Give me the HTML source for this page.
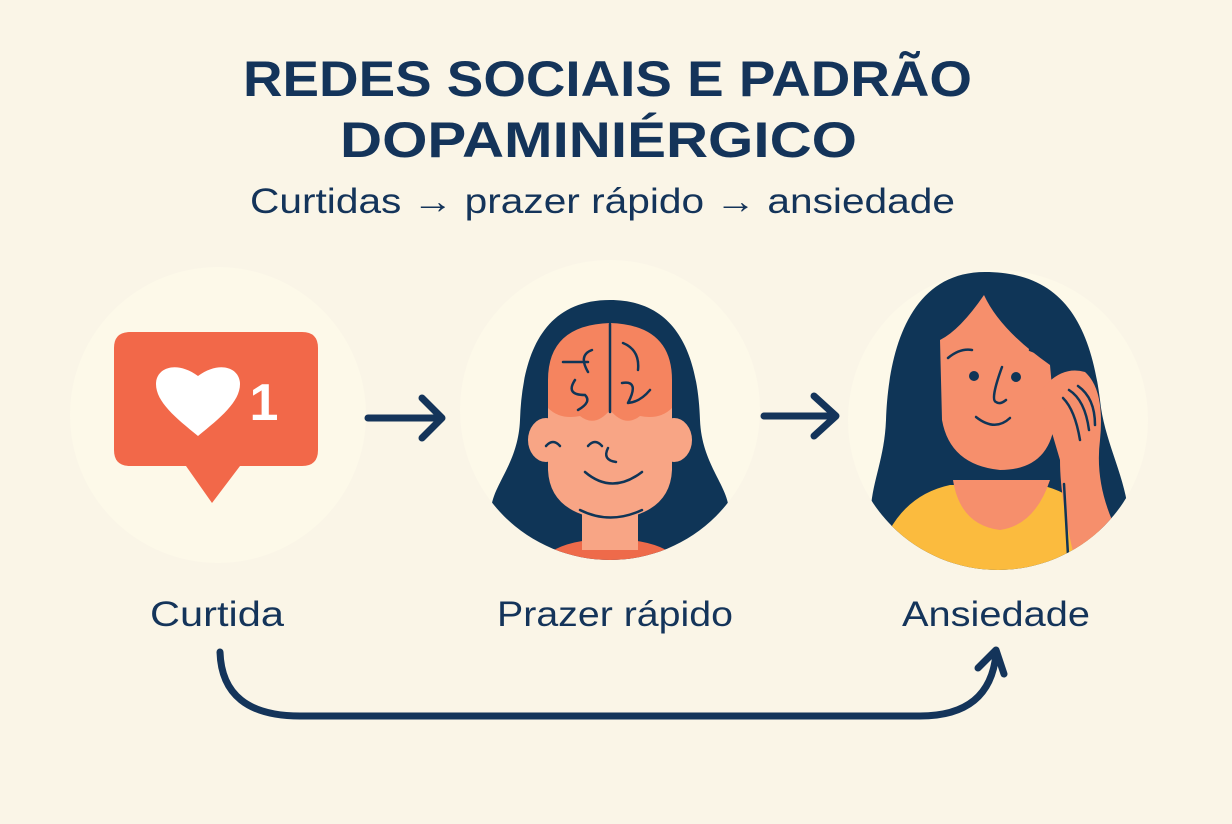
<!DOCTYPE html>
<html><head><meta charset="utf-8"><style>
html,body{margin:0;padding:0;background:#faf5e7;}
svg{display:block}
</style></head><body>
<svg width="1232" height="824" viewBox="0 0 1232 824" xmlns="http://www.w3.org/2000/svg">
<rect width="1232" height="824" fill="#faf5e7"/>
<g font-family="Liberation Sans, DejaVu Sans, sans-serif" fill="#14345a">
<text x="243" y="96" font-size="50" font-weight="bold" textLength="729" lengthAdjust="spacingAndGlyphs">REDES SOCIAIS E PADRÃO</text>
<text x="340" y="157" font-size="50" font-weight="bold" textLength="517" lengthAdjust="spacingAndGlyphs">DOPAMINIÉRGICO</text>
<text x="250" y="213" font-size="35" textLength="705" lengthAdjust="spacingAndGlyphs">Curtidas → prazer rápido → ansiedade</text>
<text x="150" y="626" font-size="35" textLength="134" lengthAdjust="spacingAndGlyphs">Curtida</text>
<text x="497" y="626" font-size="35" textLength="236" lengthAdjust="spacingAndGlyphs">Prazer rápido</text>
<text x="902" y="626" font-size="35" textLength="188" lengthAdjust="spacingAndGlyphs">Ansiedade</text>
</g>
<!-- circles -->
<circle cx="218" cy="415" r="148" fill="#fdf9e9"/>
<circle cx="610" cy="410" r="150" fill="#fdf9e9"/>
<circle cx="998" cy="420" r="150" fill="#fdf9e9"/>
<!-- like bubble -->
<path d="M130 332 H302 Q318 332 318 348 V450 Q318 466 302 466 H240 L212 503 L186 466 H130 Q114 466 114 450 V348 Q114 332 130 332Z" fill="#f26849"/>
<path d="M198 436 C176 418 156 402 156 384 C156 368 176 360 198 376 C220 360 240 368 240 384 C240 402 220 418 198 436Z" fill="#fff"/>
<text x="264" y="420" font-family="Liberation Sans, sans-serif" font-size="52" font-weight="bold" fill="#fff" text-anchor="middle">1</text>
<!-- arrows -->
<g stroke="#14345a" stroke-width="7" fill="none" stroke-linecap="round" stroke-linejoin="round">
<path d="M368 418 H440 M422 398 L442 418 L422 438"/>
<path d="M764 416 H834 M814 396 L836 416 L814 436"/>
<path d="M220 652 Q222 716 300 716 H920 Q990 716 996 654 M978 668 L996 650 L1004 674"/>
</g>
<defs>
<clipPath id="c2"><circle cx="610" cy="410" r="150"/></clipPath>
<clipPath id="c3"><circle cx="998" cy="420" r="150"/></clipPath>
</defs>
<g clip-path="url(#c2)">
<path d="M610 300 C540 300 522 360 520 420 C518 470 485 490 492 520 L520 560 H700 L728 520 C735 490 702 470 700 420 C698 360 680 300 610 300Z" fill="#0f3557"/>
<path d="M528 580 Q540 545 590 540 H630 Q680 545 692 580Z" fill="#ee6a4a"/>
<rect x="582" y="500" width="56" height="50" fill="#f8a585"/>
<ellipse cx="546" cy="440" rx="18" ry="22" fill="#f8a585"/>
<ellipse cx="674" cy="440" rx="18" ry="22" fill="#f8a585"/>
<path d="M548 400 H672 V470 Q670 515 610 520 Q550 515 548 470Z" fill="#f8a585"/>
<path d="M548 380 Q548 325 610 323 Q672 325 672 380 V408 Q660 420 640 416 Q625 428 610 410 Q595 428 580 416 Q560 420 548 408Z" fill="#f5845f"/>
<g stroke="#0f3557" stroke-width="2.5" fill="none" stroke-linecap="round">
<path d="M610 324 V412"/>
<path d="M592 350 Q578 355 588 372 M563 362 H588 M575 380 Q565 395 585 395 M585 395 Q592 402 578 410"/>
<path d="M623 343 Q640 350 638 370 M622 383 Q640 380 628 403 M628 403 Q640 402 650 390"/>
<path d="M546 446 Q553 438 560 446 M588 446 Q595 438 602 446" />
<path d="M608 448 Q602 460 616 462"/>
<path d="M585 472 Q612 495 642 472"/>
<path d="M580 510 Q610 525 642 510"/>
</g>
</g>
<g clip-path="url(#c3)">
<path d="M985 272 C905 272 888 360 886 420 C884 470 865 490 872 540 L900 580 H1100 L1128 540 C1135 490 1105 450 1100 400 C1090 320 1060 272 985 272Z" fill="#0f3557"/>
<path d="M870 600 Q880 500 950 485 H1040 Q1110 500 1120 600Z" fill="#fbbb3e"/>
<path d="M953 480 Q960 525 1000 530 Q1035 525 1050 480Z" fill="#f68f6c"/>
<path d="M940 340 Q960 330 984 295 Q1000 330 1050 365 L1055 420 Q1050 470 1000 470 Q950 465 942 420Z" fill="#f68f6c"/>
<path d="M1040 392 Q1060 365 1085 372 Q1105 390 1100 440 Q1095 480 1112 520 L1110 560 L1075 560 Q1060 500 1060 460Z" fill="#f68f6c"/>
<g stroke="#0f3557" stroke-width="2.5" fill="none" stroke-linecap="round">
<path d="M948 358 Q960 348 972 350 M1030 350 Q1042 354 1047 360"/>
<path d="M1002 367 Q990 400 996 402 Q1000 405 1006 400"/>
<path d="M976 417 Q995 432 1010 418"/>
<path d="M1063 398 Q1075 410 1080 440 M1069 390 Q1085 400 1089 430 M1078 386 Q1095 398 1095 425"/>
<path d="M1064 484 L1068 555"/>
</g>
<circle cx="974" cy="376" r="5" fill="#0f3557"/>
<circle cx="1016" cy="377" r="5" fill="#0f3557"/>
</g>
</svg>
</body></html>
